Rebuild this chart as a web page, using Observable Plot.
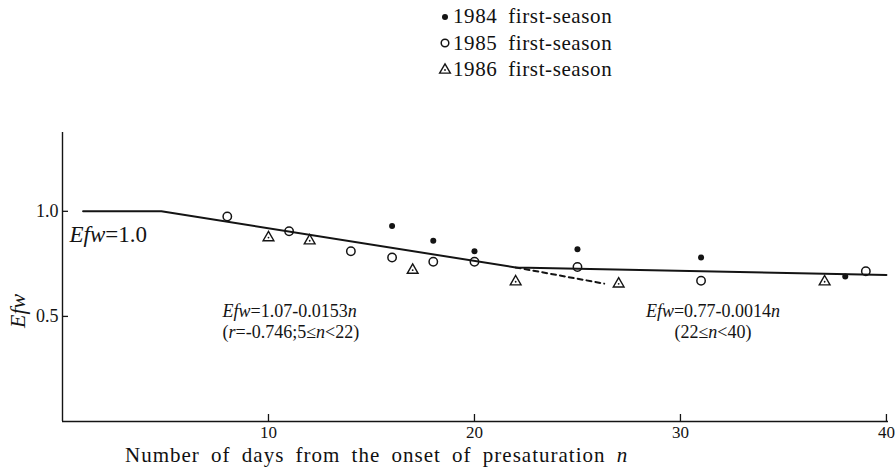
<!DOCTYPE html>
<html><head><meta charset="utf-8">
<script src="https://cdn.jsdelivr.net/npm/d3@7"></script>
<script src="https://cdn.jsdelivr.net/npm/@observablehq/plot@0.6"></script>
<style>
body{margin:0;background:#fff;}
</style></head>
<body style="font-family:'Liberation Serif';margin:0;">
<div style="font-family:'Liberation Serif';position:relative;width:895px;height:471px;color:#111;">
  <div id="keybox" style="font-family:'Liberation Serif';position:absolute;left:0;top:0;width:895px;height:95px;"></div>
  <div id="plotbox" style="font-family:'Liberation Serif';position:absolute;left:0;top:95px;"></div>
  <div style="font-family:'Liberation Serif';position:absolute;left:125px;top:443px;font-size:21px;line-height:24px;letter-spacing:1px;word-spacing:5px;">Number of days from the onset of presaturation <i style="font-family:'Liberation Serif'">n</i></div>
</div>
<script>
// ---- data ----
const n1984 = [16, 18, 20, 25, 31, 38];
const efw1984 = [0.93, 0.86, 0.81, 0.82, 0.78, 0.69];
const n1985 = [8, 11, 14, 16, 18, 20, 25, 31, 39];
const efw1985 = [0.975, 0.905, 0.81, 0.78, 0.76, 0.76, 0.735, 0.67, 0.715];
const n1986 = [10, 12, 17, 22, 27, 37];
const efw1986 = [0.875, 0.86, 0.72, 0.665, 0.655, 0.665];
const fitN = [1, 4.8, 22, 40];
const fitEfw = [1.0, 1.0, 0.733, 0.697];
const dashN = [22, 26.3];
const dashEfw = [0.733, 0.656];
const xTicks = [10, 20, 30, 40];
const yTicks = [0.5, 1.0];
const seasons = ["1984 first-season", "1985 first-season", "1986 first-season"];
const eqFlat = "*Efw*=1.0";
const eq1 = "*Efw*=1.07-0.0153*n*\n(*r*=-0.746;5≤*n*<22)";
const eq2 = "*Efw*=0.77-0.0014*n*\n(22≤*n*<40)";

// ---- tables ----
const toRows = (ns, vs) => ns.map((n, i) => ({n, efw: vs[i]}));
const d1984 = toRows(n1984, efw1984);
const d1985 = toRows(n1985, efw1985);
const d1986 = toRows(n1986, efw1986);
const fit = toRows(fitN, fitEfw);
const dash = toRows(dashN, dashEfw);

const INK = "#141414";
const FONT = "Liberation Serif";

const chart = Plot.plot({
  width: 895, height: 347,
  marginLeft: 62, marginRight: 7, marginTop: 37, marginBottom: 21,
  x: {domain: [0, 40.1]},
  y: {domain: [0, 1.375]},
  style: {fontFamily: FONT, background: "white", color: INK, overflow: "visible"},
  marks: [
    Plot.ruleX([0], {stroke: INK, strokeWidth: 1.4}),
    Plot.ruleY([0], {stroke: INK, strokeWidth: 1.4}),
    Plot.axisX(xTicks, {anchor: "bottom", tickSize: 7, dy: -7, tickPadding: 4, fontSize: 17, strokeWidth: 1.3, label: null}),
    Plot.axisY(yTicks, {anchor: "left", tickSize: 6, dx: 6, tickPadding: 4, fontSize: 18, tickFormat: ".1f", strokeWidth: 1.3, label: null}),
    Plot.line(fit, {x: "n", y: "efw", stroke: INK, strokeWidth: 2}),
    Plot.line(dash, {x: "n", y: "efw", stroke: INK, strokeWidth: 2, strokeDasharray: "5,4"}),
    Plot.dot(d1984, {x: "n", y: "efw", r: 3, fill: INK, stroke: null}),
    Plot.dot(d1985, {x: "n", y: "efw", r: 4.2, fill: "none", stroke: INK, strokeWidth: 1.5}),
    Plot.dot(d1986, {x: "n", y: "efw", r: 4, symbol: "triangle", fill: "none", stroke: INK, strokeWidth: 1.4}),
    Plot.dot(d1986, {x: "n", y: "efw", r: 0.9, fill: INK, stroke: null}),
    Plot.text([eqFlat], {x: () => 0.34, y: () => 0.889, text: d => d, textAnchor: "start", fontSize: 23, ariaLabel: "note-flat"}),
    Plot.text([eq1], {x: () => 7.77, y: () => 0.48, text: d => d, textAnchor: "start", fontSize: 18, lineHeight: 1.15, ariaLabel: "note-eq1"}),
    Plot.text([eq2], {x: () => 31.58, y: () => 0.48, text: d => d, textAnchor: "middle", fontSize: 18, lineHeight: 1.15, ariaLabel: "note-eq2"}),
    Plot.text(["Efw"], {frameAnchor: "left", dx: -45, dy: 51, rotate: -90, fontStyle: "italic", fontSize: 22, ariaLabel: "y-title"})
  ]
});

// italic segments marked with *...*
function italicize(root) {
  const walker = document.createTreeWalker(root, NodeFilter.SHOW_TEXT);
  const nodes = [];
  while (walker.nextNode()) if (walker.currentNode.nodeValue.includes("*")) nodes.push(walker.currentNode);
  for (const node of nodes) {
    const parts = node.nodeValue.split("*");
    const frag = document.createDocumentFragment();
    parts.forEach((p, i) => {
      if (!p) return;
      if (i % 2) {
        const t = document.createElementNS("http://www.w3.org/2000/svg", "tspan");
        t.setAttribute("font-style", "italic");
        t.textContent = p;
        frag.appendChild(t);
      } else frag.appendChild(document.createTextNode(p));
    });
    node.parentNode.replaceChild(frag, node);
  }
}
italicize(chart);
const sel = d3.select(chart);
sel.selectAll('g[aria-label="note-flat"] text').style("letter-spacing", "1.6px");
sel.selectAll('g[aria-label="note-eq1"] text, g[aria-label="note-eq2"] text').style("letter-spacing", "3.6px");
sel.selectAll('g[aria-label="y-title"] text').style("letter-spacing", "3px");
document.getElementById("plotbox").appendChild(chart);

// ---- legend ----
const legendCenters = [16.7, 43.3, 69.3];
const legend = d3.select("#keybox");
seasons.forEach((label, i) => {
  const row = legend.append("div")
    .attr("style", `font-family:'Liberation Serif';position:absolute;left:438px;top:${legendCenters[i] - 13}px;height:26px;display:flex;align-items:center;font-size:21px;letter-spacing:0.6px;word-spacing:5px;`);
  const s = row.append("svg").attr("width", 14).attr("height", 14).attr("viewBox", "-7 -7 14 14").style("margin-right", "1px");
  if (i === 0) s.append("circle").attr("r", 3).attr("fill", INK);
  else if (i === 1) s.append("circle").attr("r", 3.8).attr("fill", "none").attr("stroke", INK).attr("stroke-width", 1.5);
  else {
    s.append("path").attr("d", d3.symbol(d3.symbolTriangle, 50)()).attr("transform", "translate(0,1)").attr("fill", "none").attr("stroke", INK).attr("stroke-width", 1.4);
    s.append("circle").attr("r", 0.9).attr("cy", 1).attr("fill", INK);
  }
  row.append("span").attr("style", "font-family:'Liberation Serif'").text(label);
});

chart.querySelectorAll("text, tspan").forEach(el => { el.style.fontFamily = "'Liberation Serif'"; });
</script>
</body></html>
